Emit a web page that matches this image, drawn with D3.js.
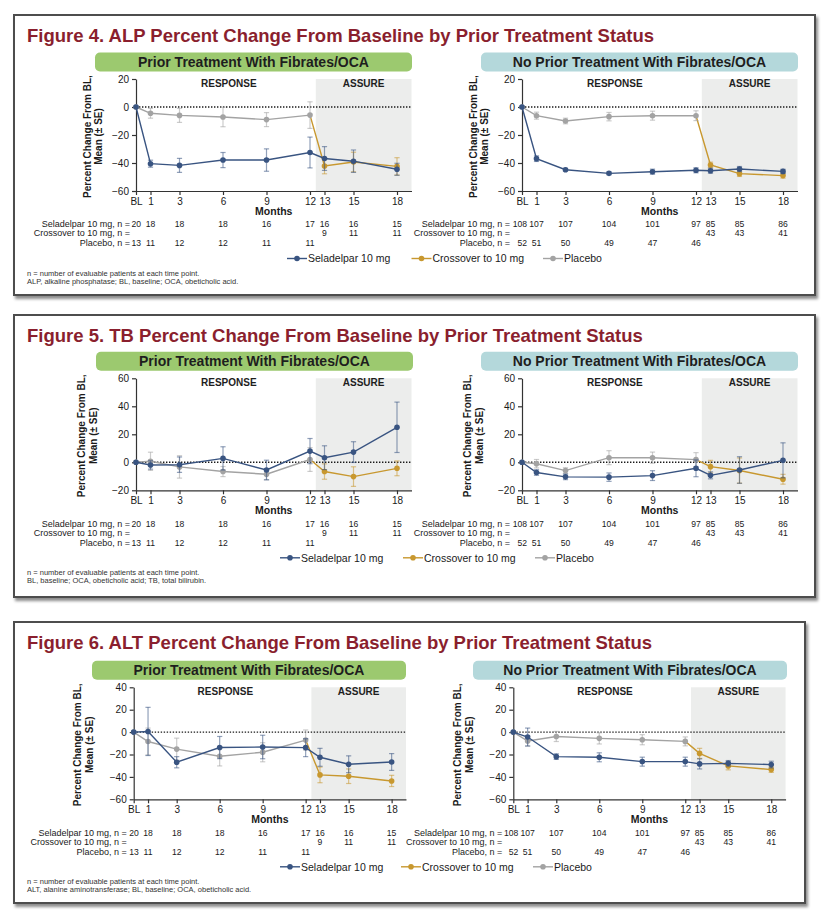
<!DOCTYPE html>
<html><head><meta charset="utf-8">
<script src="https://cdn.jsdelivr.net/npm/d3@7"></script>
<style>body{margin:0;background:#fff;} svg{display:block;font-family:"Liberation Sans",Arial,Helvetica,sans-serif;}</style>
</head><body><svg id="c" width="823" height="914"></svg>
<script>
// ---------------- DATA ----------------
const monthsAll = [0, 1, 3, 6, 9, 12, 13, 15, 18];
const monthsPlacebo = [0, 1, 3, 6, 9, 12];
const monthsCross = [13, 15, 18];
const xTickLabels = ["BL", "1", "3", "6", "9", "12", "13", "15", "18"];
const xDomain = [0, 19];
const assureStart = 12.4;
const phaseLabels = ["RESPONSE", "ASSURE"];
const panelTitles = ["Prior Treatment With Fibrates/OCA", "No Prior Treatment With Fibrates/OCA"];
const seriesNames = ["Seladelpar 10 mg", "Crossover to 10 mg", "Placebo"];
const nRowLabels = ["Seladelpar 10 mg, n =", "Crossover to 10 mg, n =", "Placebo, n ="];
const yAxisTitle = ["Percent Change From BL,", "Mean (\u00b1 SE)"];
const xAxisTitle = "Months";

const figureTitles = [
  "Figure 4. ALP Percent Change From Baseline by Prior Treatment Status",
  "Figure 5. TB Percent Change From Baseline by Prior Treatment Status",
  "Figure 6. ALT Percent Change From Baseline by Prior Treatment Status"
];
const footnotes = [
  ["n = number of evaluable patients at each time point.", "ALP, alkaline phosphatase; BL, baseline; OCA, obeticholic acid."],
  ["n = number of evaluable patients at each time point.", "BL, baseline; OCA, obeticholic acid; TB, total bilirubin."],
  ["n = number of evaluable patients at each time point.", "ALT, alanine aminotransferase; BL, baseline; OCA, obeticholic acid."]
];
const yTicksALP = [20, 0, -20, -40, -60];
const yTicksTB = [60, 40, 20, 0, -20];
const yTicksALT = [40, 20, 0, -20, -40, -60];

// n at each time point
const nPriorSel = [20, 18, 18, 18, 16, 17, 16, 16, 15];
const nPriorCross = [9, 11, 11];
const nPriorPbo = [13, 11, 12, 12, 11, 11];
const nNoSel = [108, 107, 107, 104, 101, 97, 85, 85, 86];
const nNoCross = [43, 43, 41];
const nNoPbo = [52, 51, 50, 49, 47, 46];

// Figure 4 ALP - prior
const alpPriorSel = [0, -40.5, -41.7, -37.9, -37.9, -32.5, -36.8, -38.7, -44.5];
const alpPriorSelSE = [0, 2.5, 5, 5.4, 8, 11, 8.5, 8, 4.3];
const alpPriorPbo = [0, -4.5, -6.0, -7.1, -9.0, -5.8];
const alpPriorPboSE = [0, 3.5, 5, 7, 5, 9.5];
const alpPriorCross = [-42.1, -39.3, -42.4];
const alpPriorCrossSE = [5.6, 7, 6.2];
// Figure 4 ALP - no prior
const alpNoSel = [0, -36.9, -44.8, -47.4, -46.2, -45.2, -45.5, -44.3, -46.0];
const alpNoSelSE = [0, 2, 1, 1, 1.8, 1.8, 1.8, 1.8, 1.5];
const alpNoPbo = [0, -6.2, -10.0, -6.9, -6.2, -6.2];
const alpNoPboSE = [0, 2.5, 2, 3, 3.2, 3.5];
const alpNoCross = [-41.4, -47.6, -49.0];
const alpNoCrossSE = [2, 2, 1.8];
// Figure 5 TB - prior
const tbPriorSel = [0, -1.9, -1.7, 2.8, -5.5, 8.0, 3.3, 7.3, 25.0];
const tbPriorSelSE = [0, 3, 5.5, 8.3, 7, 9, 8.5, 7.4, 18];
const tbPriorPbo = [0, 0.7, -3.3, -6.6, -8.5, 2.0];
const tbPriorPboSE = [0, 6.5, 8, 3.6, 4, 8.5];
const tbPriorCross = [-6.6, -10.2, -4.3];
const tbPriorCrossSE = [5.5, 7, 5.3];
// Figure 5 TB - no prior
const tbNoSel = [0, -7.3, -10.4, -10.6, -9.5, -4.3, -9.3, -5.5, 1.4];
const tbNoSelSE = [0, 2, 2, 3, 3.5, 6, 2.5, 9.5, 12.5];
const tbNoPbo = [0, -1.0, -5.9, 3.3, 3.3, 1.9];
const tbNoPboSE = [0, 3, 2, 5, 4, 5];
const tbNoCross = [-3.1, -5.9, -12.1];
const tbNoCrossSE = [4.5, 9, 3.5];
// Figure 6 ALT - prior
const altPriorSel = [0, 0.6, -26.9, -13.8, -13.3, -13.9, -22.5, -28.7, -26.7];
const altPriorSelSE = [0, 21.5, 5, 9.9, 10.5, 8, 8, 7.5, 7.5];
const altPriorPbo = [0, -8.4, -15.2, -21.5, -18.0, -7.1];
const altPriorPboSE = [0, 12, 9.8, 8.7, 8.5, 9];
const altPriorCross = [-38.2, -39.4, -43.6];
const altPriorCrossSE = [7, 6.5, 5];
// Figure 6 ALT - no prior
const altNoSel = [0, -4.4, -21.9, -22.5, -26.4, -26.4, -28.4, -27.9, -29.0];
const altNoSelSE = [0, 8, 2.5, 4, 4, 4, 4.5, 2.5, 3];
const altNoPbo = [0, -8.0, -3.9, -5.6, -6.8, -8.3];
const altNoPboSE = [0, 4.5, 4.5, 5, 4.5, 4];
const altNoCross = [-19.0, -30.2, -33.5];
const altNoCrossSE = [4.5, 3.5, 2.5];

// ---------------- BUILD ----------------
const nPrior = [nPriorSel, nPriorCross, nPriorPbo];
const nNo = [nNoSel, nNoCross, nNoPbo];
const figures = [
  { title: figureTitles[0], foot: footnotes[0], yTicks: yTicksALP, yDomain: [-60, 20],
    panels: [
      { sel: alpPriorSel, selSE: alpPriorSelSE, pbo: alpPriorPbo, pboSE: alpPriorPboSE, cross: alpPriorCross, crossSE: alpPriorCrossSE, n: nPrior },
      { sel: alpNoSel, selSE: alpNoSelSE, pbo: alpNoPbo, pboSE: alpNoPboSE, cross: alpNoCross, crossSE: alpNoCrossSE, n: nNo }
    ] },
  { title: figureTitles[1], foot: footnotes[1], yTicks: yTicksTB, yDomain: [-20, 60],
    panels: [
      { sel: tbPriorSel, selSE: tbPriorSelSE, pbo: tbPriorPbo, pboSE: tbPriorPboSE, cross: tbPriorCross, crossSE: tbPriorCrossSE, n: nPrior },
      { sel: tbNoSel, selSE: tbNoSelSE, pbo: tbNoPbo, pboSE: tbNoPboSE, cross: tbNoCross, crossSE: tbNoCrossSE, n: nNo }
    ] },
  { title: figureTitles[2], foot: footnotes[2], yTicks: yTicksALT, yDomain: [-60, 40],
    panels: [
      { sel: altPriorSel, selSE: altPriorSelSE, pbo: altPriorPbo, pboSE: altPriorPboSE, cross: altPriorCross, crossSE: altPriorCrossSE, n: nPrior },
      { sel: altNoSel, selSE: altNoSelSE, pbo: altNoPbo, pboSE: altNoPboSE, cross: altNoCross, crossSE: altNoCrossSE, n: nNo }
    ] }
];

// layout (positions only)
const layouts = [
  { box: [14, 15, 801, 280], plotTop: 79, plotH: 112, x0: [136, 522], ppm: 14.5, header: [95, 481], headerW: 317, ytitle: [-49, -38], nLabelGap: [6, 12], legend: [297, 421.5, 553] },
  { box: [14, 315, 801, 282], plotTop: 378.3, plotH: 112, x0: [136, 522], ppm: 14.5, header: [96, 481], headerW: 317, ytitle: [-54.5, -43], nLabelGap: [6, 12], legend: [290, 413, 545] },
  { box: [14, 622, 791, 281], plotTop: 687.3, plotH: 112, x0: [133.7, 513.3], ppm: 14.33, header: [92, 473], headerW: 314, ytitle: [-56, -44], nLabelGap: [7, 11], legend: [290, 411, 543] }
];
const headerColors = ["#9cc96f", "#b4d8db"];
const COL = { sel: "#395481", cross: "#c8982f", pbo: "#a3a3a3" };
const FONT = '"Liberation Sans", Arial, Helvetica, sans-serif';

const svg = d3.select("#c");
const defs = svg.append("defs");
const flt = defs.append("filter").attr("id", "sh").attr("x", "-3%").attr("y", "-3%").attr("width", "108%").attr("height", "110%");
flt.append("feDropShadow").attr("dx", 2).attr("dy", 3).attr("stdDeviation", 1.8).attr("flood-color", "#000").attr("flood-opacity", 0.45);

function drawSeries(g, x, y, months, vals, ses, color, markerFrom) {
  const pts = months.map((m, i) => ({ m, v: vals[i], se: ses[i], i }));
  const eb = g.append("g").attr("stroke", color).attr("stroke-opacity", 0.55).attr("stroke-width", 1.2);
  pts.filter(d => d.se > 0).forEach(d => {
    const xc = x(d.m), y1 = y(d.v + d.se), y2 = y(d.v - d.se);
    eb.append("line").attr("x1", xc).attr("x2", xc).attr("y1", y1).attr("y2", y2);
    eb.append("line").attr("x1", xc - 2.6).attr("x2", xc + 2.6).attr("y1", y1).attr("y2", y1);
    eb.append("line").attr("x1", xc - 2.6).attr("x2", xc + 2.6).attr("y1", y2).attr("y2", y2);
  });
  const line = d3.line().x(d => x(d.m)).y(d => y(d.v));
  g.append("path").datum(pts).attr("d", line).attr("fill", "none").attr("stroke", color).attr("stroke-width", 1.4);
  g.selectAll(null).data(pts.filter(d => d.i >= markerFrom)).enter().append("circle")
    .attr("cx", d => x(d.m)).attr("cy", d => y(d.v)).attr("r", 2.8).attr("fill", color);
}

function drawPanel(g, fig, p, pi, L) {
  const x0 = L.x0[pi];
  const top = L.plotTop, bottom = top + L.plotH;
  const x = d3.scaleLinear().domain(xDomain).range([x0, x0 + (xDomain[1] - xDomain[0]) * L.ppm]);
  const y = d3.scaleLinear().domain(fig.yDomain).range([bottom, top]);

  // header pill
  const hx = L.header[pi], hy = top - 26.5;
  g.append("rect").attr("x", hx).attr("y", hy).attr("width", L.headerW).attr("height", 19).attr("rx", 5).attr("fill", headerColors[pi]);
  g.append("text").attr("x", hx + L.headerW / 2).attr("y", hy + 14.5).attr("text-anchor", "middle")
    .attr("font-size", 14).attr("font-weight", "bold").attr("fill", "#1e1e1e").text(panelTitles[pi]);

  // ASSURE shading
  g.append("rect").attr("x", x(assureStart)).attr("y", top).attr("width", x(xDomain[1]) - x(assureStart)).attr("height", L.plotH).attr("fill", "#ecedec");

  // phase labels
  g.append("text").attr("x", x(6.4)).attr("y", top + 8).attr("text-anchor", "middle").attr("font-size", 10).attr("font-weight", "bold").attr("fill", "#1e1e1e").text(phaseLabels[0]);
  g.append("text").attr("x", (x(assureStart) + x(xDomain[1])) / 2).attr("y", top + 8).attr("text-anchor", "middle").attr("font-size", 10).attr("font-weight", "bold").attr("fill", "#1e1e1e").text(phaseLabels[1]);

  // zero dotted line
  g.append("line").attr("x1", x(0)).attr("x2", x(xDomain[1])).attr("y1", y(0)).attr("y2", y(0))
    .attr("stroke", "#1a1a1a").attr("stroke-width", 1.4).attr("stroke-dasharray", "1.4,1.6");

  // axes
  const ya = g.append("g").attr("transform", `translate(${x0},0)`)
    .call(d3.axisLeft(y).tickValues(fig.yTicks).tickFormat(d3.format("d")).tickSize(4).tickSizeOuter(0).tickPadding(3));
  const xa = g.append("g").attr("transform", `translate(0,${bottom})`)
    .call(d3.axisBottom(x).tickValues(monthsAll).tickFormat((d, i) => xTickLabels[i]).tickSize(4).tickSizeOuter(0).tickPadding(2.5));
  [ya, xa].forEach(a => {
    a.attr("font-family", FONT).attr("font-size", 10);
    a.selectAll("path,line").attr("stroke", "#333").attr("stroke-width", 1.2);
    a.selectAll("text").attr("fill", "#1a1a1a");
  });

  // axis titles
  const yc = (top + bottom) / 2 + 1.5;
  yAxisTitle.forEach((t, k) => {
    g.append("text").attr("transform", `translate(${x0 + L.ytitle[k] + 3.6},${yc}) rotate(-90)`)
      .attr("text-anchor", "middle").attr("font-size", 10).attr("font-weight", "bold").attr("fill", "#1a1a1a").text(t);
  });
  g.append("text").attr("x", (x(0) + x(xDomain[1])) / 2).attr("y", bottom + 24).attr("text-anchor", "middle")
    .attr("font-size", 10.5).attr("font-weight", "bold").attr("fill", "#1a1a1a").text(xAxisTitle);

  // series (crossover, placebo, seladelpar)
  drawSeries(g, x, y, [monthsPlacebo[monthsPlacebo.length - 1]].concat(monthsCross),
    [p.pbo[p.pbo.length - 1]].concat(p.cross), [0].concat(p.crossSE), COL.cross, 1);
  drawSeries(g, x, y, monthsPlacebo, p.pbo, p.pboSE, COL.pbo, 0);
  drawSeries(g, x, y, monthsAll, p.sel, p.selSE, COL.sel, 0);

  // n table
  const rowY = [bottom + 36.2, bottom + 45.3, bottom + 55.2];
  const rowMonths = [monthsAll, monthsCross, monthsPlacebo];
  nRowLabels.forEach((lab, r) => {
    g.append("text").attr("x", x0 - L.nLabelGap[pi]).attr("y", rowY[r]).attr("text-anchor", "end")
      .attr("font-size", 9).attr("fill", "#1a1a1a").text(lab);
    g.selectAll(null).data(p.n[r]).enter().append("text")
      .attr("x", (d, i) => rowMonths[r][i] === 0 ? x(0) + 5 : x(rowMonths[r][i]))
      .attr("y", rowY[r])
      .attr("text-anchor", (d, i) => rowMonths[r][i] === 0 ? "end" : "middle")
      .attr("font-size", 8.6).attr("fill", "#1a1a1a").text(d => d);
  });
}

figures.forEach((fig, fi) => {
  const L = layouts[fi];
  const g = svg.append("g").attr("font-family", FONT);
  const [bx, by, bw, bh] = L.box;
  g.append("rect").attr("x", bx).attr("y", by).attr("width", bw).attr("height", bh)
    .attr("fill", "#fff").attr("stroke", "#4d4d4d").attr("stroke-width", 2).attr("filter", "url(#sh)");
  g.append("text").attr("x", 27).attr("y", by + 26.5).attr("font-size", 18.5).attr("font-weight", "bold")
    .attr("fill", "#8a1f2e").text(fig.title);
  fig.panels.forEach((p, pi) => drawPanel(g, fig, p, pi, L));

  // legend
  const bottom = L.plotTop + L.plotH;
  const ly = bottom + 67.5;
  const cols = [COL.sel, COL.cross, COL.pbo];
  seriesNames.forEach((nm, k) => {
    const cx = L.legend[k];
    g.append("line").attr("x1", cx - 10).attr("x2", cx + 10).attr("y1", ly).attr("y2", ly).attr("stroke", cols[k]).attr("stroke-width", 1.4);
    g.append("circle").attr("cx", cx).attr("cy", ly).attr("r", 2.8).attr("fill", cols[k]);
    g.append("text").attr("x", cx + 11).attr("y", ly + 3.8).attr("font-size", 10.5).attr("fill", "#1a1a1a").text(nm);
  });
  // footnotes
  fig.foot.forEach((t, k) => {
    g.append("text").attr("x", 27).attr("y", bottom + 82 + k * 8.3 + 2.6).attr("font-size", 7.5).attr("fill", "#333").text(t);
  });
});
</script></body></html>
